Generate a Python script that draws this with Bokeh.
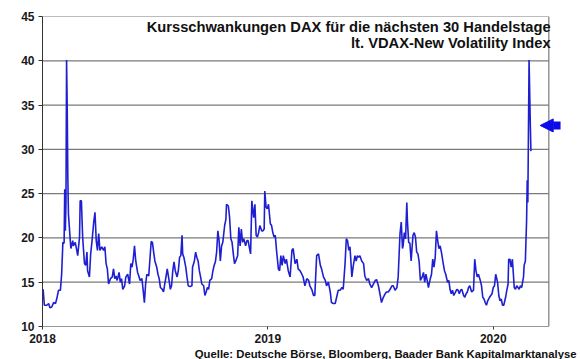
import pandas as pd
from bokeh.plotting import figure
from bokeh.models import (Range1d, FixedTicker, DatetimeTickFormatter, Label, Arrow,
                          NormalHead, ColumnDataSource, Title)
from bokeh.embed import file_html
from bokeh.resources import INLINE

# ---- data -------------------------------------------------------------
base_date = pd.Timestamp("2018-01-01")
# calendar days after 2018-01-01
day = [1, 3, 7, 10, 12, 15, 18, 21, 23, 26, 29, 31, 33, 35, 36, 37, 38, 39, 40, 41, 42,
       45, 46, 49, 50, 53, 55, 57, 60, 61, 63, 65, 68, 70, 72, 73, 76, 78, 80, 83, 85,
       87, 89, 91, 93, 96, 99, 101, 103, 105, 107, 110, 113, 115, 117, 119, 121, 124,
       126, 128, 130, 133, 135, 138, 141, 143, 145, 147, 149, 151, 154, 156, 158, 161,
       163, 165, 167, 169, 172, 174, 176, 178, 180, 182, 185, 187, 189, 191, 194, 196,
       198, 200, 202, 205, 207, 209, 211, 213, 215, 218, 220, 222, 224, 226, 227, 229,
       232, 234, 236, 239, 242, 243, 246, 248, 250, 252, 254, 256, 258, 261, 263, 265,
       267, 269, 271, 274, 276, 278, 280, 282, 284, 286, 288, 290, 292, 295, 297, 298,
       301, 303, 305, 307, 309, 311, 313, 316, 318, 320, 322, 324, 326, 329, 331, 333,
       335, 337, 339, 342, 344, 346, 348, 350, 352, 355, 357, 359, 360, 362, 364, 366,
       369, 371, 373, 375, 377, 379, 382, 384, 386, 388, 390, 393, 395, 398, 401, 404,
       406, 409, 412, 414, 417, 420, 422, 425, 428, 431, 433, 436, 439, 441, 444, 447,
       450, 452, 455, 458, 460, 463, 466, 468, 471, 474, 477, 479, 482, 485, 487, 490,
       492, 494, 496, 498, 501, 503, 506, 508, 510, 512, 514, 517, 520, 522, 525, 528,
       530, 533, 536, 539, 541, 544, 547, 549, 552, 555, 557, 560, 563, 566, 568, 571,
       574, 576, 579, 581, 583, 584, 586, 588, 590, 591, 593, 595, 597, 600, 602, 604,
       606, 608, 610, 612, 615, 617, 619, 621, 623, 625, 628, 630, 632, 634, 636, 638,
       640, 642, 644, 646, 649, 651, 653, 656, 658, 660, 662, 664, 666, 669, 671, 673,
       675, 677, 679, 682, 684, 686, 688, 690, 692, 695, 698, 700, 702, 704, 706, 709,
       711, 713, 715, 717, 719, 721, 724, 726, 728, 730, 732, 734, 737, 739, 741, 743,
       745, 747, 750, 752, 754, 755, 757, 759, 761, 764, 766, 768, 770, 772, 774, 776,
       779, 780, 782, 784, 785, 786, 788, 790, 791]
vdax = [14.2, 12.4, 12.4, 12.6, 12.1, 12.2, 12.7, 12.6, 13.1, 14.1, 14.1, 15.9, 19.5, 19.4,
        25.5, 20.8, 24.0, 40.1, 35.0, 27.0, 22.7,
        19.7, 18.8, 19.7, 19.1, 19.5, 18.8, 18.0, 20.1, 24.2, 24.2, 20.1, 17.1, 16.9, 18.4,
        16.3, 15.6, 18.2, 19.5, 21.8, 22.9,
        19.7, 18.6, 20.5, 18.6, 19.0, 18.6, 19.0, 17.1, 16.5, 14.8, 15.4, 15.6, 16.5, 15.4,
        15.7, 15.2, 16.1,
        15.0, 15.4, 14.2, 14.6, 15.6, 15.9, 14.8, 17.1, 16.7, 17.6, 19.1, 17.4, 16.1, 15.7,
        15.2, 15.4,
        14.1, 12.7, 14.8, 15.9, 15.7, 17.6, 19.6, 19.5, 18.4, 17.4, 16.7, 15.9, 15.4, 14.4,
        14.2, 13.9,
        14.8, 15.6, 16.5, 15.2, 14.2, 14.6, 16.3, 17.3, 16.3, 15.6, 16.3, 17.8, 18.0, 20.3,
        18.2, 17.8,
        16.7, 15.6, 14.6, 14.5, 14.6, 16.7, 17.4, 18.4, 17.8, 17.4, 16.3, 15.6, 14.8, 14.6,
        13.5, 13.9,
        14.4, 14.2, 15.2, 15.4, 16.3, 16.9, 17.3, 18.4, 20.8, 19.7, 17.4, 19.1, 19.5, 21.4,
        22.1, 23.8,
        23.6, 22.3, 19.9, 19.5, 18.2, 17.1, 17.4, 18.0, 21.2, 19.1, 21.0, 19.5, 19.9, 19.1,
        19.7, 19.7,
        18.9, 18.2, 24.2, 22.3, 23.8, 20.3, 20.1, 20.6, 21.4, 20.8, 20.8, 21.0, 25.3, 23.5,
        23.3, 23.8,
        21.6, 21.4, 20.6, 20.1, 20.3, 18.6, 16.5, 16.3, 18.0, 16.9, 18.0, 17.1, 17.6, 16.3,
        15.6, 18.6,
        18.8, 17.1, 17.6, 16.5, 16.3, 15.9, 15.6, 14.6, 15.4, 15.2, 14.6, 14.2, 13.5, 13.5,
        18.0, 18.2,
        16.9, 16.5, 15.6, 15.2, 14.6, 15.0, 13.9, 12.7, 12.6, 12.6, 13.5, 14.1, 14.1, 14.4,
        14.2, 17.1,
        19.9, 19.7, 18.6, 19.0, 15.6, 16.7, 18.0, 17.4, 18.0, 17.8, 18.0, 17.4, 17.1, 15.7,
        15.2, 15.4,
        14.8, 14.4, 14.8, 15.2, 15.3, 14.6, 13.5, 12.7, 13.3, 13.7, 13.9, 13.9, 14.2, 14.6,
        14.6, 14.1,
        14.4, 15.6, 20.5, 21.8, 18.8, 19.1, 20.6, 19.9, 24.0, 21.9, 19.5, 19.4, 17.4, 20.3,
        20.6, 20.1,
        18.4, 18.2, 17.3, 15.2, 15.6, 16.1, 15.0, 15.9, 15.2, 14.4, 15.4, 15.9, 17.6, 16.7,
        17.8, 20.8,
        19.7, 18.8, 19.1, 18.4, 17.1, 16.3, 15.9, 15.0, 15.2, 14.2, 13.7, 14.1, 13.5, 13.9,
        14.2, 14.1,
        13.7, 14.1, 14.2, 13.5, 13.3, 13.7, 13.9, 14.4, 14.6, 13.9, 14.1, 17.6, 16.3, 15.6,
        15.9, 15.2,
        14.6, 13.3, 13.1, 12.7, 12.4, 12.9, 13.3, 13.5, 13.7, 14.4, 14.6, 15.9, 15.0, 13.5,
        12.9, 13.1,
        12.4, 12.4, 13.3, 14.1, 14.8, 17.6, 17.6, 16.7, 17.6, 14.4, 14.2, 14.6, 14.4, 14.2,
        14.6, 14.4,
        15.6, 16.9, 17.4, 22.0, 26.5, 24.0, 40.1, 32.8, 29.8]
arrow_level = 32.7   # level marked by the blue arrow on the right

y_ticks = [10, 15, 20, 25, 30, 35, 40, 45]
year_ticks = ["2018-01-01", "2019-01-01", "2020-01-01"]
border_date = pd.Timestamp("2020-03-31")

title_1 = "Kursschwankungen DAX für die nächsten 30 Handelstage"
title_2 = "lt. VDAX-New Volatility Index"
source_text = "Quelle: Deutsche Börse, Bloomberg, Baader Bank Kapitalmarktanalyse"

# ---- styling ----------------------------------------------------------
LINE_BLUE = "#1f1fd2"
ARROW_BLUE = "#0c0ce8"
GRID = "#7a7a7a"
FONT = "Liberation Sans"

dates = base_date + pd.to_timedelta(day, unit="D")
src = ColumnDataSource(dict(date=dates, vdax=vdax))

def ms(ts):
    return pd.Timestamp(ts).value / 1e6

def ms_day(n):
    return ms(base_date + pd.Timedelta(days=n))

p = figure(width=580, height=359, x_axis_type="datetime",
           output_backend="svg", toolbar_location=None,
           min_border_left=42, min_border_right=15, min_border_top=16, min_border_bottom=20,
           x_range=Range1d(base_date, base_date + pd.Timedelta(days=847)),
           y_range=Range1d(y_ticks[0], y_ticks[-1]))
p.outline_line_color = None
p.grid.visible = False
p.background_fill_color = "white"

# horizontal grid lines + top border, right border, bottom axis line
grid_y = y_ticks[1:]
p.segment(x0=[base_date] * len(grid_y), x1=[border_date] * len(grid_y),
          y0=grid_y, y1=grid_y, line_color=GRID, line_width=1.2)
p.segment(x0=[border_date], x1=[border_date], y0=[y_ticks[0]], y1=[y_ticks[-1]],
          line_color=GRID, line_width=1.2)
p.segment(x0=[base_date], x1=[border_date], y0=[y_ticks[0]], y1=[y_ticks[0]],
          line_color="#333333", line_width=1.2)

p.line("date", "vdax", source=src, line_color=LINE_BLUE, line_width=1.6)

# axes
p.yaxis.ticker = FixedTicker(ticks=y_ticks)
p.yaxis.axis_line_color = "#333333"
p.yaxis.major_tick_line_color = "#333333"
p.yaxis.major_tick_out = 4
p.yaxis.major_tick_in = 0
p.yaxis.minor_tick_line_color = None
p.yaxis.major_label_standoff = 4
p.yaxis.major_label_text_font = FONT
p.yaxis.major_label_text_font_style = "bold"
p.yaxis.major_label_text_font_size = "12px"
p.yaxis.major_label_text_color = "#1a1a1a"

p.xaxis.ticker = FixedTicker(ticks=[ms(t) for t in year_ticks])
p.xaxis.formatter = DatetimeTickFormatter(years="%Y", months="%Y", days="%Y",
                                          hours="%Y", minutes="%Y", seconds="%Y")
p.xaxis.axis_line_color = None
p.xaxis.major_tick_line_color = "#333333"
p.xaxis.major_tick_out = 3
p.xaxis.major_tick_in = 0
p.xaxis.minor_tick_line_color = None
p.xaxis.major_label_standoff = 4
p.xaxis.major_label_text_font = FONT
p.xaxis.major_label_text_font_style = "bold"
p.xaxis.major_label_text_font_size = "12px"
p.xaxis.major_label_text_color = "#1a1a1a"

# titles inside the plot, right-aligned
title_x = ms(border_date + pd.Timedelta(days=3))
for txt, yy in [(title_1, 43.86), (title_2, 42.06)]:
    p.add_layout(Label(x=title_x, y=yy, text=txt, text_align="right",
                       text_baseline="alphabetic", text_font=FONT,
                       text_font_style="bold", text_font_size="14.7px",
                       text_color="#111111"))

# source line below the plot
p.add_layout(Title(text=source_text, align="right", offset=-11, standoff=0,
                   text_font=FONT, text_font_style="bold", text_font_size="11.3px",
                   text_color="#111111"), "below")

# arrow marking the current level
p.add_layout(Arrow(end=NormalHead(size=13, fill_color=ARROW_BLUE, line_color=ARROW_BLUE),
                   x_start=ms_day(839), y_start=arrow_level,
                   x_end=ms_day(806), y_end=arrow_level,
                   line_color=ARROW_BLUE, line_width=8))

open("out.html", "w").write(file_html(p, INLINE))
